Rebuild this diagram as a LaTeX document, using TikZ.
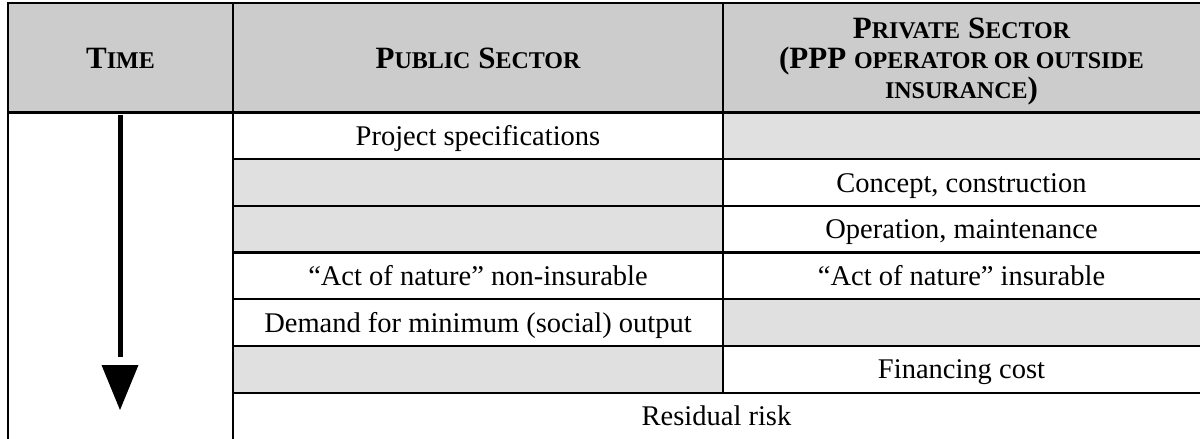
\documentclass[tikz,border=0pt]{standalone}
\usepackage{fontspec}
\setmainfont{Liberation Serif}
\definecolor{hdrgray}{HTML}{CCCCCC}
\definecolor{cellgray}{HTML}{E0E0E0}
\newcommand\hsc[1]{{\fontsize{24}{30}\selectfont #1}}
\begin{document}
\begin{tikzpicture}[x=1pt,y=-1pt,
  cellbox/.style={rectangle, inner sep=0pt, outer sep=0pt, anchor=north west,
    align=center, text height=19pt, text depth=0pt,
    font=\fontsize{28.5}{32}\selectfont},
  hdrbox/.style={cellbox, fill=hdrgray, text height=20.5pt,
    font=\fontsize{31}{30}\bfseries},
  shaded/.style={fill=cellgray},
  grid/.style={line width=2.3pt, line cap=rect},
  timeshaft/.style={line width=5pt}]
\useasboundingbox (0,0) rectangle (1200,439);
% header
\node[hdrbox, minimum width=225pt, minimum height=109.5pt] (hT) at (8,3) {T\hsc{IME}};
\node[hdrbox, minimum width=490pt, minimum height=109.5pt] (hP) at (233,3) {P\hsc{UBLIC} S\hsc{ECTOR}};
\node[hdrbox, minimum width=477pt, minimum height=109.5pt, text height=82pt] (hR) at (723,3)
  {P\hsc{RIVATE} S\hsc{ECTOR}\\(PPP \hsc{OPERATOR OR OUTSIDE}\\\hsc{INSURANCE})};
% body rows
\node[cellbox, minimum width=490pt, minimum height=46.7pt] (m1) at (233,112.5) {Project specifications};
\node[cellbox, shaded, minimum width=477pt, minimum height=46.7pt] (r1) at (723,112.5) {};
\node[cellbox, shaded, minimum width=490pt, minimum height=46.7pt] (m2) at (233,159.2) {};
\node[cellbox, minimum width=477pt, minimum height=46.7pt] (r2) at (723,159.2) {Concept, construction};
\node[cellbox, shaded, minimum width=490pt, minimum height=46.7pt] (m3) at (233,205.9) {};
\node[cellbox, minimum width=477pt, minimum height=46.7pt] (r3) at (723,205.9) {Operation, maintenance};
\node[cellbox, minimum width=490pt, minimum height=46.7pt] (m4) at (233,252.6) {“Act of nature” non-insurable};
\node[cellbox, minimum width=477pt, minimum height=46.7pt] (r4) at (723,252.6) {“Act of nature” insurable};
\node[cellbox, minimum width=490pt, minimum height=46.7pt] (m5) at (233,299.3) {Demand for minimum (social) output};
\node[cellbox, shaded, minimum width=477pt, minimum height=46.7pt] (r5) at (723,299.3) {};
\node[cellbox, shaded, minimum width=490pt, minimum height=46.7pt] (m6) at (233,346) {};
\node[cellbox, minimum width=477pt, minimum height=46.7pt] (r6) at (723,346) {Financing cost};
\node[cellbox, minimum width=967pt, minimum height=46.7pt] (m7) at (233,392.7) {Residual risk};
% grid lines
\draw[grid] (8,439) -- (hT.north west) -- (hR.north east);
\draw[grid] (hT.south west) -- (hR.south east);
\draw[grid] (hP.north west) -- (m7.south west);
\draw[grid] (hP.north east) -- (m6.south east);
\foreach \c in {m1,m2,m3,m4,m5,m6}{
  \draw[grid] (\c.south west) -- (\c.south west -| hR.east);
}
% time arrow
\coordinate (shafttop) at (120,115);
\coordinate (shaftend) at (120,357);
\draw[timeshaft] (shafttop) -- (shaftend);
\fill (101.5,365) -- (138.5,365) -- (120,410) -- cycle;
\end{tikzpicture}
\end{document}
